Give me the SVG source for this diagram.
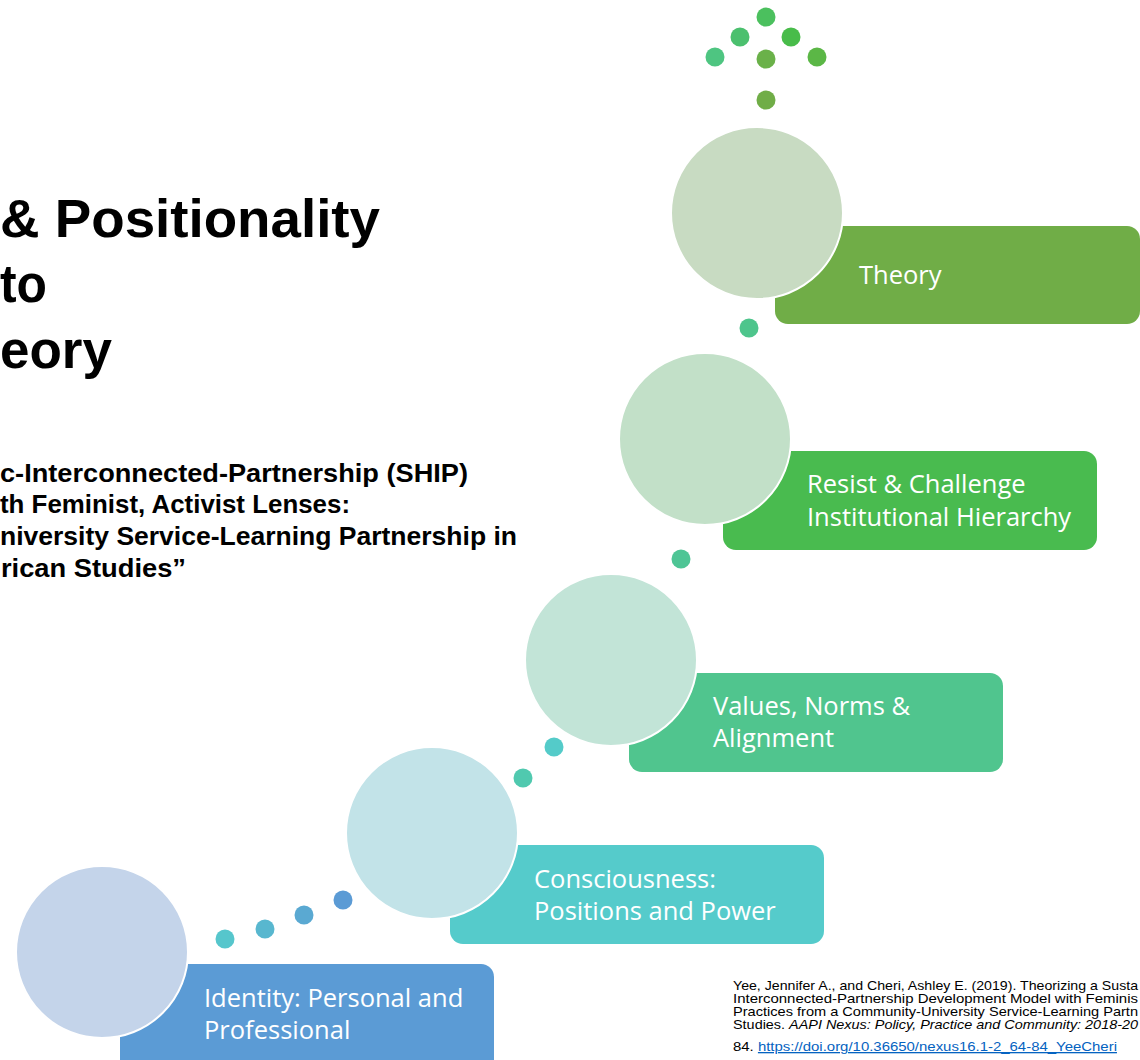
<svg xmlns="http://www.w3.org/2000/svg" width="1140" height="1060" viewBox="0 0 1140 1060">
<style>
.title{font-family:"Liberation Sans",Arial,sans-serif;font-weight:bold;font-size:54px;fill:#000}
.sub{font-family:"Liberation Sans",Arial,sans-serif;font-weight:bold;font-size:26px;fill:#000}
.lbl{font-family:"Open Sans","Noto Sans",sans-serif;font-size:25.5px;fill:#fff}
.cite{font-family:"Liberation Sans",Arial,sans-serif;font-size:13px;fill:#000}
.big{stroke:#fff;stroke-width:2}
</style>
<rect width="1140" height="1060" fill="#fff"/>
<g id="title">
<text class="title" x="0" y="237" textLength="380" lengthAdjust="spacingAndGlyphs">&amp; Positionality</text>
<text class="title" x="0" y="302" textLength="47" lengthAdjust="spacingAndGlyphs">to</text>
<text class="title" x="0" y="368" textLength="112" lengthAdjust="spacingAndGlyphs">eory</text>
</g>
<g id="subtitle">
<text class="sub" x="0" y="482" textLength="468" lengthAdjust="spacingAndGlyphs">c-Interconnected-Partnership (SHIP)</text>
<text class="sub" x="0" y="513" textLength="350" lengthAdjust="spacingAndGlyphs">th Feminist, Activist Lenses:</text>
<text class="sub" x="0" y="545" textLength="517" lengthAdjust="spacingAndGlyphs">niversity Service-Learning Partnership in</text>
<text class="sub" x="1" y="577" textLength="185" lengthAdjust="spacingAndGlyphs">rican Studies”</text>
</g>
<g id="connectors">
<circle cx="225" cy="939" r="9.5" fill="#56C6CC"/>
<circle cx="265" cy="929" r="9.5" fill="#58B7CF"/>
<circle cx="304" cy="915" r="9.5" fill="#5AA9D2"/>
<circle cx="343" cy="900" r="9.5" fill="#5B9BD5"/>
<circle cx="523" cy="778" r="9.5" fill="#50C9AF"/>
<circle cx="554" cy="747" r="9.5" fill="#54CBC9"/>
<circle cx="681" cy="559" r="9.5" fill="#4EC595"/>
<circle cx="749" cy="328" r="9.5" fill="#4EC58C"/>
<circle cx="766" cy="17" r="9.5" fill="#4BC05E"/>
<circle cx="740" cy="37" r="9.5" fill="#4BC06E"/>
<circle cx="791" cy="37" r="9.5" fill="#48BC4A"/>
<circle cx="715" cy="57" r="9.5" fill="#4EC581"/>
<circle cx="766" cy="59" r="9.5" fill="#6AB149"/>
<circle cx="817" cy="57" r="9.5" fill="#5BB746"/>
<circle cx="766" cy="100" r="9.5" fill="#70AD47"/>
</g>
<g id="node-identity">
<rect x="120" y="964" width="374" height="110" rx="13" fill="#5B9BD5"/>
<circle class="big" cx="102" cy="952" r="86" fill="#C4D4EA"/>
<text class="lbl" x="204" y="1007">Identity: Personal and</text>
<text class="lbl" x="204" y="1039">Professional</text>
</g>
<g id="node-consciousness">
<rect x="450" y="845" width="374" height="99" rx="13" fill="#55CBCB"/>
<circle class="big" cx="432" cy="833" r="86" fill="#C2E3E8"/>
<text class="lbl" x="534" y="888">Consciousness:</text>
<text class="lbl" x="534" y="920">Positions and Power</text>
</g>
<g id="node-values">
<rect x="629" y="673" width="374" height="99" rx="13" fill="#50C58E"/>
<circle class="big" cx="611" cy="660" r="86" fill="#C2E4D7"/>
<text class="lbl" x="713" y="715">Values, Norms &amp;</text>
<text class="lbl" x="713" y="747">Alignment</text>
</g>
<g id="node-resist">
<rect x="723" y="451" width="374" height="99" rx="13" fill="#49BB4F"/>
<circle class="big" cx="705" cy="439" r="86" fill="#C2E0C8"/>
<text class="lbl" x="807" y="493">Resist &amp; Challenge</text>
<text class="lbl" x="807" y="526">Institutional Hierarchy</text>
</g>
<g id="node-theory">
<rect x="775" y="226" width="365" height="98" rx="13" fill="#70AD47"/>
<circle class="big" cx="757" cy="213" r="86" fill="#C8DBC2"/>
<text class="lbl" x="859" y="284">Theory</text>
</g>
<g id="citation">
<text class="cite" x="733" y="990" textLength="405" lengthAdjust="spacingAndGlyphs">Yee, Jennifer A., and Cheri, Ashley E. (2019). Theorizing a Susta</text>
<text class="cite" x="733" y="1003" textLength="405" lengthAdjust="spacingAndGlyphs">Interconnected-Partnership Development Model with Feminis</text>
<text class="cite" x="733" y="1016" textLength="405" lengthAdjust="spacingAndGlyphs">Practices from a Community-University Service-Learning Partn</text>
<text class="cite" x="733" y="1029" textLength="405" lengthAdjust="spacingAndGlyphs">Studies. <tspan font-style="italic">AAPI Nexus: Policy, Practice and Community: 2018-20</tspan></text>
<text class="cite" x="733" y="1051" textLength="384" lengthAdjust="spacingAndGlyphs">84. <tspan fill="#0563C1" text-decoration="underline">https://doi.org/10.36650/nexus16.1-2_64-84_YeeCheri</tspan></text>
</g>
</svg>
